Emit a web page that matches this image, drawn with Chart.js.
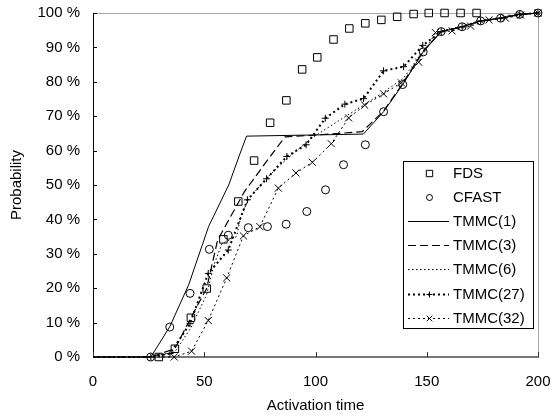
<!DOCTYPE html>
<html>
<head>
<meta charset="utf-8">
<script src="https://cdn.jsdelivr.net/npm/chart.js@4.4.1/dist/chart.umd.min.js"></script>
<style>
  html, body { margin: 0; padding: 0; background: #fff; }
</style>
</head>
<body>
<canvas id="activation" width="553" height="417"></canvas>
<script>
// values (x = activation time, y = probability in %)
const fdsX = [29.6, 36.8, 44.0, 51.1, 58.6, 65.3, 72.4, 79.6, 86.9, 94.0, 100.8, 108.1, 115.2, 122.4, 129.6, 136.7, 144.1, 150.9, 158.0, 165.2, 172.4];
const fdsY = [0, 2.4, 11.4, 19.9, 34.2, 45.2, 57.1, 68.1, 74.6, 83.6, 87.1, 92.3, 95.5, 97.0, 98.0, 98.9, 99.7, 100, 100, 100, 100];

const cfastX = [25.9, 34.5, 43.6, 52.3, 60.8, 69.8, 78.4, 86.8, 96.1, 104.5, 112.6, 122.4, 130.6, 139.2, 148.4, 156.5, 165.9, 174.2, 183.2, 191.8, 200];
const cfastY = [0, 8.7, 18.5, 31.3, 35.4, 37.6, 37.9, 38.6, 42.3, 48.6, 55.9, 61.7, 71.3, 79.2, 88.7, 94.6, 96.0, 97.7, 98.5, 99.6, 100];

const tmmc1X = [0, 26, 34.5, 43, 52, 61, 66, 69, 121.5, 130.6, 139.2, 148.4, 156.5, 165.9, 174.2, 183.2, 191.8, 200];
const tmmc1Y = [0, 0, 8.8, 21, 38, 50, 59, 64.2, 64.8, 71.3, 79.2, 88.7, 94.6, 96.0, 97.7, 98.5, 99.6, 100];

const tmmc3X = [0, 26, 36.8, 44, 51.1, 56, 62, 68, 77, 86.3, 100, 121, 130.6, 139.2, 148.4, 156.5, 165.9, 174.2, 183.2, 191.8, 200];
const tmmc3Y = [0, 0, 2.4, 11.4, 20, 34, 41, 48, 56, 64, 64.5, 65.5, 71.5, 79.5, 89, 94.6, 96.0, 97.7, 98.5, 99.6, 100];

const tmmc6X = [0, 26, 36.8, 44, 51, 54.5, 58, 64.5, 66.5, 70, 78, 87, 98, 110, 121, 130.6, 139.5, 148.4, 156.5, 165.9, 174.2, 183.2, 191.8, 200];
const tmmc6Y = [0, 0, 1.5, 8.5, 18, 27, 33, 35, 41, 46, 52, 57.5, 63.5, 68.5, 73, 77, 81, 89, 94.6, 96.0, 97.7, 98.5, 99.6, 100];

const tmmc27X = [0, 26, 34.6, 43.6, 51.8, 60.8, 69.4, 78.0, 87.1, 95.8, 104.4, 113.2, 121.6, 130.6, 139.6, 148.2, 156.5, 165.9, 174.2, 183.2, 191.8, 200];
const tmmc27Y = [0, 0, 1.0, 9.7, 24.3, 31.1, 45.7, 51.8, 58.3, 61.7, 69.4, 73.5, 75.1, 83.2, 84.4, 90.6, 94.6, 96.0, 97.7, 98.5, 99.6, 100];

const tmmc32X = [0, 36.5, 44.3, 51.8, 60.1, 67.6, 75.0, 83.3, 91.2, 98.6, 107.1, 114.9, 122.1, 130.6, 138.6, 146.4, 153.9, 161.4, 169.7, 178.0, 185.4, 192.2, 200];
const tmmc32Y = [0, 0, 1.7, 10.6, 23.0, 35.2, 37.9, 49.1, 53.5, 56.6, 62.0, 69.5, 73.2, 76.5, 79.7, 85.7, 94.3, 94.8, 96.2, 98.0, 98.5, 99.4, 100];

const xTicks = [0, 50, 100, 150, 200];
const FONT = 'Arial, "Liberation Sans", sans-serif';

function pts(xs, ys) {
  return xs.map(function(x, i) { return {x: x, y: ys[i]}; });
}
// no marker on the (0,0) start of the TMMC curves
function skipFirst(r) {
  return function(c) { return c.dataIndex === 0 ? 0 : r; };
}

// plot frame, axes and inward tick marks
const framePlugin = {
  id: 'frame',
  beforeDatasetsDraw(chart) {
    const ctx = chart.ctx, a = chart.chartArea;
    const xs = chart.scales.x, ys = chart.scales.y;
    ctx.save();
    ctx.strokeStyle = '#a6a6a6';
    ctx.lineWidth = 1;
    ctx.beginPath();
    ctx.moveTo(a.left, a.top + 0.5);
    ctx.lineTo(a.right + 0.5, a.top + 0.5);
    ctx.lineTo(a.right + 0.5, a.bottom);
    ctx.stroke();

    ctx.strokeStyle = '#000';
    ctx.beginPath();
    ctx.moveTo(a.left + 0.5, a.top);
    ctx.lineTo(a.left + 0.5, a.bottom);
    ys.ticks.forEach(function(t) {
      const y = Math.round(ys.getPixelForValue(t.value)) + 0.5;
      ctx.moveTo(a.left, y);
      ctx.lineTo(a.left + 4, y);
    });
    ctx.stroke();

    ctx.strokeStyle = '#777';
    ctx.lineWidth = 2;
    ctx.beginPath();
    ctx.moveTo(a.left, a.bottom);
    ctx.lineTo(a.right + 1, a.bottom);
    ctx.stroke();
    ctx.lineWidth = 1;
    ctx.strokeStyle = '#333';
    ctx.beginPath();
    xs.ticks.forEach(function(t) {
      const x = Math.round(xs.getPixelForValue(t.value)) + 0.5;
      ctx.moveTo(x, a.bottom);
      ctx.lineTo(x, a.bottom - 5);
    });
    ctx.stroke();
    ctx.restore();
  }
};

// boxed legend sitting inside the plot, lower right
const boxLegend = {
  id: 'boxLegend',
  afterDraw(chart) {
    const ctx = chart.ctx;
    const left = 403, top = 161, w = 130, h = 167;
    ctx.save();
    ctx.fillStyle = '#fff';
    ctx.fillRect(left, top, w, h);
    ctx.strokeStyle = '#000';
    ctx.lineWidth = 1;
    ctx.strokeRect(left + 0.5, top + 0.5, w, h);
    chart.data.datasets.forEach(function(ds, i) {
      const y = Math.round(173 + i * 24.1);
      ctx.strokeStyle = '#000';
      if (ds.showLine) {
        ctx.lineWidth = ds.borderWidth;
        ctx.setLineDash(ds.borderDash || []);
        ctx.beginPath();
        ctx.moveTo(408, y + 0.5);
        ctx.lineTo(449, y + 0.5);
        ctx.stroke();
        ctx.setLineDash([]);
      }
      if (ds.legendMarker) {
        ctx.lineWidth = 1;
        ctx.fillStyle = '#fff';
        Chart.helpers.drawPoint(ctx, {pointStyle: ds.pointStyle, radius: ds.legendMarker, borderWidth: 1, rotation: 0}, 429.5, y + 0.5);
      }
      ctx.fillStyle = '#000';
      ctx.font = '15px ' + FONT;
      ctx.textAlign = 'left';
      ctx.textBaseline = 'middle';
      ctx.fillText(ds.label, 453, y + 1);
    });
    ctx.restore();
  }
};

try {
  const ctx = document.getElementById('activation').getContext('2d');
  const data = {
    datasets: [
      {
        label: 'FDS',
        data: pts(fdsX, fdsY),
        showLine: false,
        pointStyle: 'rect',
        pointRadius: 5.3,
        pointBorderWidth: 1,
        pointBorderColor: '#000',
        pointBackgroundColor: 'rgba(0,0,0,0)',
        legendMarker: 4.5
      },
      {
        label: 'CFAST',
        data: pts(cfastX, cfastY),
        showLine: false,
        pointStyle: 'circle',
        pointRadius: 4,
        pointBorderWidth: 1,
        pointBorderColor: '#000',
        pointBackgroundColor: 'rgba(0,0,0,0)',
        legendMarker: 3
      },
      {
        label: 'TMMC(1)',
        data: pts(tmmc1X, tmmc1Y),
        showLine: true,
        borderColor: '#000',
        borderWidth: 1,
        pointRadius: 0
      },
      {
        label: 'TMMC(3)',
        data: pts(tmmc3X, tmmc3Y),
        showLine: true,
        borderColor: '#000',
        borderWidth: 1.2,
        borderDash: [8, 4],
        pointRadius: 0
      },
      {
        label: 'TMMC(6)',
        data: pts(tmmc6X, tmmc6Y),
        showLine: true,
        borderColor: '#000',
        borderWidth: 1,
        borderDash: [1.5, 2.5],
        pointRadius: 0
      },
      {
        label: 'TMMC(27)',
        data: pts(tmmc27X, tmmc27Y),
        showLine: true,
        borderColor: '#000',
        borderWidth: 2,
        borderDash: [2, 3],
        pointStyle: 'cross',
        pointRadius: skipFirst(3.5),
        pointBorderWidth: 1,
        pointBorderColor: '#000',
        legendMarker: 3
      },
      {
        label: 'TMMC(32)',
        data: pts(tmmc32X, tmmc32Y),
        showLine: true,
        borderColor: '#000',
        borderWidth: 1,
        borderDash: [2, 3],
        pointStyle: 'crossRot',
        pointRadius: skipFirst(5),
        pointBorderWidth: 1,
        pointBorderColor: '#000',
        legendMarker: 4
      }
    ]
  };
  data.datasets.forEach(function(d) { d.clip = false; d.tension = 0; d.fill = false; });

  const myChart = new Chart(ctx, {
    type: 'scatter',
    data: data,
    options: {
      responsive: false,
      animation: false,
      events: [],
      layout: { padding: { top: 13, right: 15, left: 0, bottom: 0 } },
      plugins: {
        legend: { display: false },
        tooltip: { enabled: false }
      },
      scales: {
        x: {
          type: 'linear',
          min: 0, max: 200,
          afterBuildTicks: function(s) { s.ticks = xTicks.map(function(v) { return {value: v}; }); },
          afterFit: function(s) { s.height = 60; s.paddingLeft = 0; s.paddingRight = 0; },
          grid: { display: false, tickLength: 0 },
          border: { display: false },
          ticks: { color: '#000', font: { family: FONT, size: 15 }, padding: 16, maxRotation: 0 },
          title: { display: true, text: 'Activation time', color: '#000', font: { family: FONT, size: 15 }, padding: { top: 0, bottom: 2 } }
        },
        y: {
          min: 0, max: 100,
          afterFit: function(s) { s.width = 93; s.paddingTop = 0; s.paddingBottom = 0; },
          grid: { display: false, tickLength: 0 },
          border: { display: false },
          ticks: { stepSize: 10, color: '#000', font: { family: FONT, size: 15 }, padding: 13,
                   callback: function(v) { return v + ' %'; } },
          title: { display: true, text: 'Probability', color: '#000', font: { family: FONT, size: 15 }, padding: { top: 8, bottom: 0 } }
        }
      }
    },
    plugins: [framePlugin, boxLegend]
  });
} catch (e) {
  console.log('chart error', e);
}
</script>
</body>
</html>
